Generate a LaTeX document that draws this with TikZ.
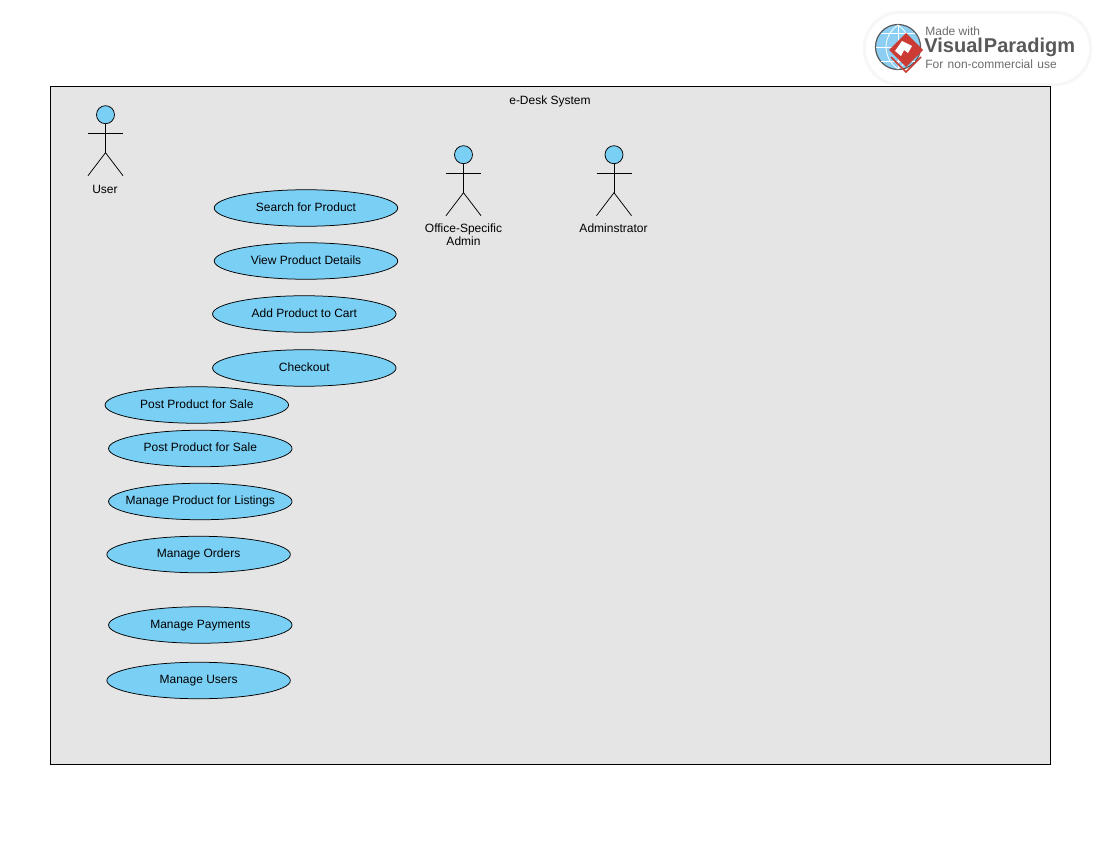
\documentclass[tikz,border=0pt]{standalone}
\usepackage{fontspec}
\setmainfont{Liberation Sans}
\usepackage{xcolor}
\usetikzlibrary{positioning,shapes.geometric}
\definecolor{sysgray}{HTML}{E5E5E5}
\definecolor{ucblue}{HTML}{7ACFF5}
\definecolor{vpred}{HTML}{CC3B33}
\definecolor{vpblue}{HTML}{8CCFF2}

\begin{document}
\begin{tikzpicture}[
  x=1pt, y=-1pt,
  line width=0.75pt,
  font=\fontsize{12}{13}\selectfont,
  usecase/.style={draw, ellipse, fill=ucblue, minimum width=183.5pt, minimum height=36.5pt, inner xsep=-15pt, inner ysep=0pt, outer sep=0pt, text height=9pt, text depth=2.4pt, align=center},
  lbl/.style={inner sep=0pt, align=center},
  actor/.pic={
    \draw[fill=ucblue] (0,-19) circle (9pt);
    \draw (0,-10) -- (0,19);
    \draw (-17.5,0) -- (17.5,0);
    \draw (-17.5,42) -- (0,19) -- (17.5,42);
  }
]
\useasboundingbox (0,0) rectangle (1100,850);

% system box
\node[draw, fill=sysgray, minimum width=1000pt, minimum height=678pt, inner sep=0pt, outer sep=0pt, anchor=north west] (sys) at (50.5,86.5) {};
\node[lbl] (title) at (550,101.5) {e-Desk System};

% actors
\pic at (105.5,133.7) {actor};
\node[lbl] (user) at (105,189) {User};
\pic at (463.5,173.7) {actor};
\node[lbl] (office) at (463.5,234.8) {Office-Specific\\Admin};
\pic at (614,173.7) {actor};
\node[lbl] (admin) at (613.5,228.3) {Adminstrator};

% use cases
\node[usecase] (search) at (306,208) {Search for Product};
\node[usecase, below=16.5pt of search] (view) {View Product Details};
\node[usecase, below=16.5pt of view, xshift=-1.7pt] (add) {Add Product to Cart};
\node[usecase, below=17.5pt of add] (checkout) {Checkout};
\node[usecase] (postA) at (196.8,405) {Post Product for Sale};
\node[usecase, below=7pt of postA, xshift=3.5pt] (postB) {Post Product for Sale};
\node[usecase, below=16.5pt of postB] (listings) {Manage Product for Listings};
\node[usecase, below=16.5pt of listings, xshift=-1.7pt] (orders) {Manage Orders};
\node[usecase, below=34pt of orders, xshift=1.7pt] (payments) {Manage Payments};
\node[usecase, below=19pt of payments, xshift=-1.7pt] (users) {Manage Users};

% badge
\fill[gray!6, rounded corners=36pt] (863,11) rectangle (1092,86);
\fill[white, rounded corners=34pt] (866,14) rectangle (1089,83);
\draw[gray!70!black, fill=vpblue, line width=1.2pt] (898,47) circle (22.5pt);
\draw[white, line width=0.8pt] (876,47) -- (920,47) (898,25) -- (898,69) (881,33) -- (915,33) (881,61) -- (915,61);
\draw[white, line width=0.8pt] (898,25) .. controls (882,36) and (882,58) .. (898,69);
\draw[white, line width=0.8pt] (898,25) .. controls (914,36) and (914,58) .. (898,69);
\fill[vpred] (906,33) -- (923,50) -- (906,67) -- (889,50) -- cycle;
\fill[white] (902,41) -- (912,46) -- (908,53) -- (904,50) -- (901,56) -- (895,51) -- cycle;
\draw[vpred, line width=1.5pt] (891,57) -- (906,72) -- (921,57);
\node[lbl, anchor=west, text=gray!85!black, font=\fontsize{12}{13}\selectfont] (made) at (925,31) {Made with};
\node[lbl, anchor=west, text=black!65, font=\fontsize{20}{22}\selectfont\bfseries] (vp) at (924,47) {Visual\kern1pt Paradigm};
\node[lbl, anchor=west, text=gray!85!black, font=\fontsize{12}{13}\selectfont] (free) at (925,64) {For\kern1pt\ non-commercial\kern1pt\ use};
\end{tikzpicture}
\end{document}
